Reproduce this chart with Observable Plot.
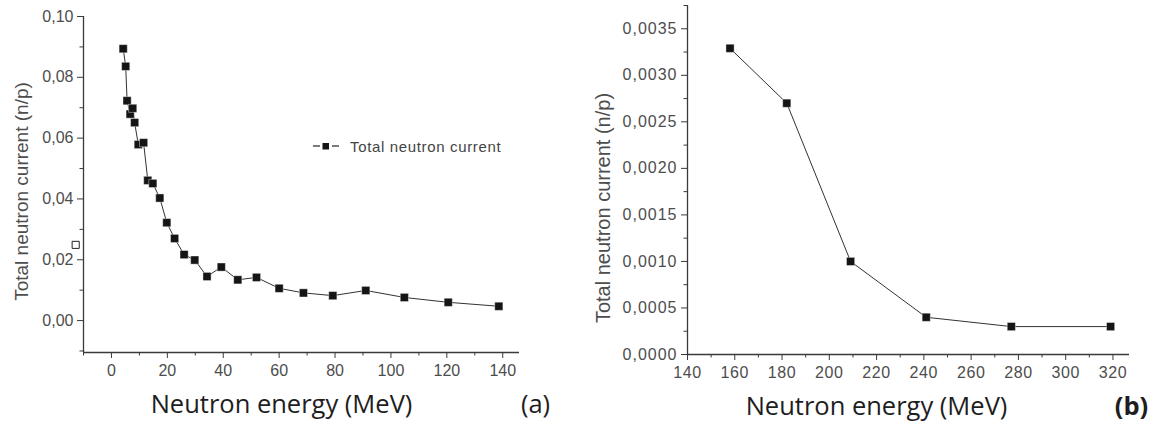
<!DOCTYPE html>
<html>
<head>
<meta charset="utf-8">
<script src="https://cdn.jsdelivr.net/npm/d3@7"></script>
<script src="https://cdn.jsdelivr.net/npm/@observablehq/plot@0.6"></script>
<style>
  html, body { margin: 0; padding: 0; background: #fff; }
  #wrap { position: relative; width: 1152px; height: 422px; overflow: hidden; background: #fff; }
  #left { position: absolute; left: 0; top: 0; }
  #right { position: absolute; left: 576px; top: 0; }
  #right g[aria-label="y-axis tick label"] text { letter-spacing: 1px; }
  #right g[aria-label="x-axis tick label"] text { letter-spacing: 0.6px; }
  #legend { position: absolute; left: 313px; top: 136px; height: 20px; display: flex; align-items: center;
    font-family: "Liberation Sans", Arial, sans-serif; font-size: 15px; letter-spacing: 0.65px; color: #444; }
  #legend svg { margin-right: 11px; }
</style>
</head>
<body>
<div id="wrap">
  <div id="left"></div>
  <div id="right"></div>
  <div id="legend"></div>
</div>
<script>
// ---- data: panel (a)
const leftEnergy  = [4.2, 5.1, 5.6, 6.7, 7.6, 8.3, 9.6, 11.5, 13.0, 14.8, 17.3, 19.8, 22.6, 26.0, 29.8, 34.2, 39.3, 45.2, 51.9, 60.0, 68.7, 79.2, 91.0, 104.8, 120.5, 138.6];
const leftCurrent = [0.0894, 0.0836, 0.0723, 0.0679, 0.0698, 0.0651, 0.0579, 0.0585, 0.0461, 0.0451, 0.0403, 0.0322, 0.0270, 0.0217, 0.0199, 0.0145, 0.0176, 0.0134, 0.0142, 0.0106, 0.0091, 0.0082, 0.0099, 0.0076, 0.0060, 0.0047];
const strayEnergy  = [-12.8];
const strayCurrent = [0.0249];
const leftXTicks = [0, 20, 40, 60, 80, 100, 120, 140];
const leftXMinor = [-10, 10, 30, 50, 70, 90, 110, 130];
const leftYTicks = [0, 0.02, 0.04, 0.06, 0.08, 0.10];
const leftYMinor = [-0.01, 0.01, 0.03, 0.05, 0.07, 0.09];
const leftXDomain = [-10, 146];
const leftYDomain = [-0.0105, 0.10];

// ---- data: panel (b)
const rightEnergy  = [158, 182, 209, 241, 277, 319];
const rightCurrent = [0.00329, 0.0027, 0.0010, 0.0004, 0.0003, 0.0003];
const rightXTicks = [140, 160, 180, 200, 220, 240, 260, 280, 300, 320];
const rightXMinor = [150, 170, 190, 210, 230, 250, 270, 290, 310];
const rightYTicks = [0, 0.0005, 0.0010, 0.0015, 0.0020, 0.0025, 0.0030, 0.0035];
const rightYMinor = [0.00025, 0.00075, 0.00125, 0.00175, 0.00225, 0.00275, 0.00325, 0.00375];
const rightXDomain = [140, 327];
const rightYDomain = [0, 0.00375];

// ---- text
const yTitle = "Total neutron current (n/p)";
const xTitle = "Neutron energy (MeV)";
const seriesName = "Total neutron current";

const leftData = leftEnergy.map((e, i) => ({energy: e, current: leftCurrent[i]}));
const strayData = strayEnergy.map((e, i) => ({energy: e, current: strayCurrent[i]}));
const rightData = rightEnergy.map((e, i) => ({energy: e, current: rightCurrent[i]}));

const AXIS = "#3a3a3a";
const LABEL = "#4d4d4d";
const tickFont = "'Liberation Sans', Arial, sans-serif";
const comma = (n) => (d) => d.toFixed(n).replace(".", ",");

function panel(cfg) {
  return Plot.plot({
    width: 576, height: 422,
    marginLeft: cfg.ml, marginRight: cfg.mr, marginTop: cfg.mt, marginBottom: cfg.mb,
    x: {domain: cfg.xDomain},
    y: {domain: cfg.yDomain},
    style: {fontFamily: tickFont, fontSize: "16px", color: LABEL, background: "white", overflow: "visible"},
    marks: [
      Plot.ruleX([cfg.xDomain[0]], {stroke: AXIS, strokeWidth: 1.3}),
      Plot.ruleY([cfg.yDomain[0]], {stroke: AXIS, strokeWidth: 1.3}),
      Plot.axisX(cfg.xTicks, {tickSize: 6, tickPadding: 6, stroke: AXIS, fill: LABEL, label: null, tickFormat: d => String(d)}),
      Plot.axisX(cfg.xMinor, {tickSize: 3.5, stroke: AXIS, label: null, tickFormat: () => ""}),
      Plot.axisY(cfg.yTicks, {tickSize: 6, tickPadding: 4, stroke: AXIS, fill: LABEL, label: null, tickFormat: cfg.yFormat}),
      Plot.axisY(cfg.yMinor, {tickSize: 3.5, stroke: AXIS, label: null, tickFormat: () => ""}),
      Plot.line(cfg.data, {x: "energy", y: "current", stroke: "#333", strokeWidth: 1}),
      Plot.dot(cfg.data, {x: "energy", y: "current", symbol: "square", r: 4.6, fill: "#151515", stroke: "#fff", strokeWidth: 0.4}),
      ...(cfg.extra || []),
      Plot.text([yTitle], {text: d => d, frameAnchor: "left", textAnchor: "middle", lineAnchor: "middle", rotate: -90,
        dx: cfg.ytDx, dy: cfg.ytDy, fontSize: cfg.ytSize, fontFamily: tickFont, fill: LABEL}),
      Plot.text([xTitle], {text: d => d, frameAnchor: "bottom", dx: cfg.xtDx, dy: 60,
        fontSize: 25.5, fontFamily: "'Open Sans', sans-serif", fill: "#1e1e1e"}),
      Plot.text([cfg.tag], {text: d => d, frameAnchor: "bottom-right", textAnchor: "middle", dx: cfg.tagDx, dy: 60,
        fontSize: 25.5, fontFamily: "'Open Sans', sans-serif", fontWeight: cfg.tagWeight, fill: "#1e1e1e"})
    ]
  });
}

const left = panel({
  ml: 83, mr: 57, mt: 16, mb: 70,
  xDomain: leftXDomain, yDomain: leftYDomain,
  xTicks: leftXTicks, xMinor: leftXMinor, yTicks: leftYTicks, yMinor: leftYMinor,
  yFormat: comma(2), data: leftData,
  extra: [Plot.dot(strayData, {x: "energy", y: "current", symbol: "square", r: 4, fill: "white", stroke: "#222", strokeWidth: 1})],
  ytDx: -62, ytDy: 7, ytSize: 19, xtDx: -20, tag: "(a)", tagDx: 16, tagWeight: "normal"
});
document.getElementById("left").appendChild(left);

const right = panel({
  ml: 111, mr: 23, mt: 5, mb: 68,
  xDomain: rightXDomain, yDomain: rightYDomain,
  xTicks: rightXTicks, xMinor: rightXMinor, yTicks: rightYTicks, yMinor: rightYMinor,
  yFormat: comma(4), data: rightData,
  ytDx: -84, ytDy: 28, ytSize: 20, xtDx: -32, tag: "(b)", tagDx: 2, tagWeight: "bold"
});
document.getElementById("right").appendChild(right);

// legend for panel (a)
const lg = document.getElementById("legend");
lg.innerHTML = `<svg width="26" height="12" viewBox="0 0 26 12">
  <line x1="0" y1="6" x2="7" y2="6" stroke="#333" stroke-width="1.3"/>
  <rect x="9.5" y="3" width="6.5" height="6.5" fill="#151515"/>
  <line x1="19" y1="6" x2="26" y2="6" stroke="#333" stroke-width="1.3"/>
</svg><span>${seriesName}</span>`;
</script>
</body>
</html>
